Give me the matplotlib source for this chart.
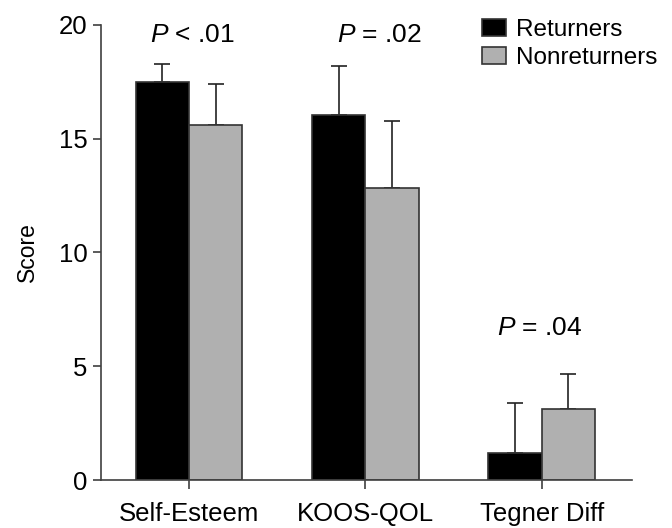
import matplotlib
matplotlib.use("Agg")
import matplotlib.pyplot as plt
import numpy as np

categories = ["Self-Esteem", "KOOS-QOL", "Tegner Diff"]
returners = [17.5, 16.05, 1.2]
returners_err = [0.8, 2.15, 2.17]
nonreturners = [15.6, 12.85, 3.1]
nonreturners_err = [1.82, 2.95, 1.55]
p_labels = ["$P$ < .01", "$P$ = .02", "$P$ = .04"]
p_heights = [19.55, 19.55, 6.7]
y_ticks = [0, 5, 10, 15, 20]

plt.rcParams['font.family'] = ['Liberation Sans', 'DejaVu Sans']
plt.rcParams['mathtext.fontset'] = 'custom'
plt.rcParams['mathtext.rm'] = 'Liberation Sans'
plt.rcParams['mathtext.it'] = 'Liberation Sans:italic'

fig = plt.figure(figsize=(6.72, 5.28), dpi=100)
ax = fig.add_axes([0.150, 0.0909, 0.790, 0.8618])

x = np.arange(len(categories))
w = 0.303
edge = '#333333'
ax.bar(x - w/2, returners, w, color='black', edgecolor=edge, linewidth=1.2,
       label='Returners', zorder=2)
ax.bar(x + w/2, nonreturners, w, color='#b0b0b0', edgecolor=edge, linewidth=1.2,
       label='Nonreturners', zorder=2)
ax.errorbar(x - w/2, returners, yerr=[np.zeros(3), returners_err], fmt='none',
            ecolor='#222222', elinewidth=1.2, capsize=6, capthick=1.2, zorder=1)
ax.errorbar(x + w/2, nonreturners, yerr=[np.zeros(3), nonreturners_err], fmt='none',
            ecolor='#222222', elinewidth=1.2, capsize=6, capthick=1.2, zorder=1)

offs = [0.02, 0.08, -0.01]
for i, (lab, h) in enumerate(zip(p_labels, p_heights)):
    ax.text(i + offs[i], h, lab, ha='center', va='center', fontsize=19)

ax.set_xlim(-0.5, 2.51)
ax.set_ylim(0, 20)
ax.set_yticks(y_ticks)
ax.set_xticks(x)
ax.set_xticklabels(categories, fontsize=18.5)
ax.tick_params(axis='y', labelsize=18.5, length=6, width=1.2, color='#404040')
ax.tick_params(axis='x', length=6.5, width=1.2, color='#404040', pad=9)
ax.set_ylabel('Score', fontsize=16.5, labelpad=14)
for s in ['top', 'right']:
    ax.spines[s].set_visible(False)
for s in ['left', 'bottom']:
    ax.spines[s].set_color('#404040')
    ax.spines[s].set_linewidth(1.2)

leg = ax.legend(loc='upper left', bbox_to_anchor=(0.70, 1.035), frameon=False,
                fontsize=17.5, handlelength=1.0, handleheight=0.7, handletextpad=0.4,
                labelspacing=0.25, borderaxespad=0)

fig.savefig('out.png', dpi=100)
